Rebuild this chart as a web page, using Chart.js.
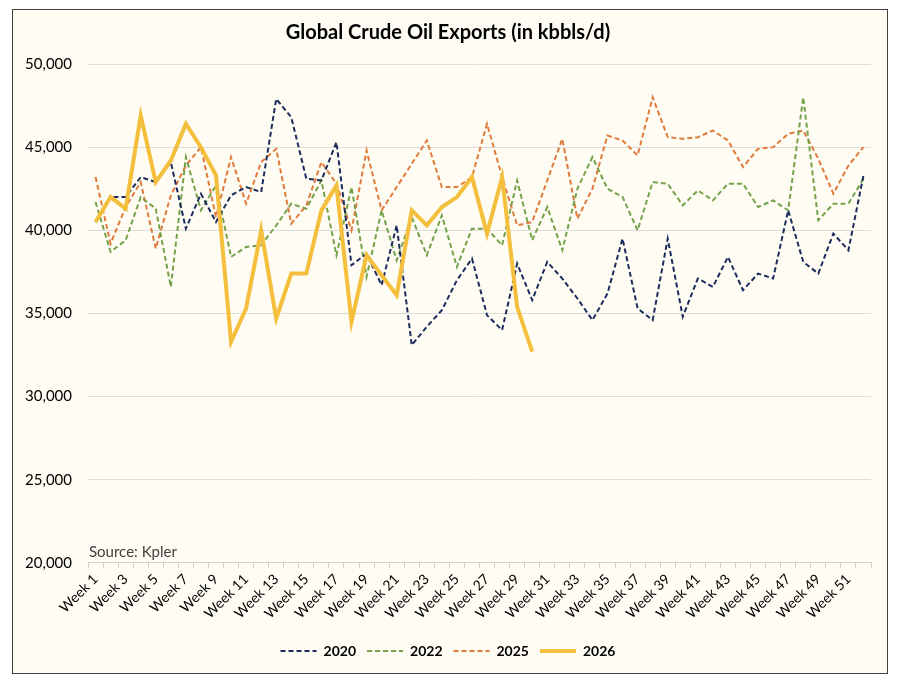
<!DOCTYPE html>
<html>
<head>
<meta charset="utf-8">
<script src="https://cdn.jsdelivr.net/npm/chart.js@4.4.1/dist/chart.umd.min.js"></script>
<style>
  html, body { margin: 0; padding: 0; background: #ffffff; }
  #frame {
    position: absolute; left: 12px; top: 9px; width: 876px; height: 665px;
    box-sizing: border-box; border: 1.5px solid #404040; background: #fefcf3;
  }
  #chart { display: block; }
</style>
</head>
<body>
<div id="frame"><canvas id="chart"></canvas></div>
<script>
// weekly exports, kbbls/d
const weeks = Array.from({ length: 52 }, (_, i) => "Week " + (i + 1));

const exports2020 = [
  40500, 42000, 42000, 43200, 42900, 44100, 40100, 42200, 40500, 42100,
  42600, 42300, 47900, 46800, 43100, 43000, 45300, 37900, 38600, 36700,
  40300, 33100, 34200, 35200, 37000, 38300, 34900, 34000, 38000, 35800,
  38100, 37100, 35900, 34600, 36200, 39500, 35300, 34600, 39500, 34800,
  37100, 36600, 38400, 36400, 37400, 37100, 41200, 38100, 37400, 39800,
  38800, 43300,
];

const exports2022 = [
  41700, 38700, 39400, 42000, 41300, 36600, 44400, 41200, 42700, 38400,
  39000, 39100, 40300, 41600, 41300, 43000, 38500, 42600, 37200, 41200,
  38200, 40800, 38500, 40900, 37800, 40100, 40100, 39100, 43000, 39400,
  41400, 38800, 42500, 44400, 42500, 42000, 40000, 42900, 42800, 41500,
  42400, 41800, 42800, 42800, 41400, 41800, 41200, 48000, 40600, 41600,
  41600, 43100,
];

const exports2025 = [
  43200, 39200, 41400, 42900, 38900, 42100, 43900, 45000, 40800, 44400,
  41600, 44100, 44900, 40400, 41500, 44100, 42800, 40000, 44800, 41200,
  42600, 44000, 45400, 42600, 42600, 43200, 46400, 43200, 40300, 40500,
  43000, 45500, 40700, 42500, 45700, 45400, 44500, 48000, 45600, 45500,
  45600, 46000, 45400, 43800, 44900, 45000, 45800, 46000, 44300, 42200,
  43900, 45000,
];

// 2026 only runs to week 30
const exports2026 = [
  40500, 42000, 41300, 46900, 42900, 44200, 46400, 45000, 43300, 33300,
  35300, 40000, 34700, 37400, 37400, 41200, 42700, 34500, 38500, 37300,
  36100, 41200, 40300, 41400, 42000, 43200, 39800, 43200, 35400, 32700,
];

const yTicks = { min: 20000, max: 50000, step: 5000 };
const sourceNote = "Source: Kpler";

const FONT = "Lato, 'Noto Sans', sans-serif";

// draws the source note inside the plot, just above the bottom gridline
const sourcePlugin = {
  id: "sourceNote",
  afterDraw(chart) {
    const { ctx, chartArea } = chart;
    ctx.save();
    ctx.font = "15px " + FONT;
    ctx.fillStyle = "#404040";
    ctx.textBaseline = "alphabetic";
    ctx.fillText(sourceNote, chartArea.left + 1, chartArea.bottom - 6);
    ctx.restore();
  },
};

// legend items built from point styles lose the dash, put it back
function legendLabels(chart) {
  const items = Chart.defaults.plugins.legend.labels.generateLabels(chart);
  items.forEach((item) => {
    const ds = chart.data.datasets[item.datasetIndex];
    item.lineDash = ds.borderDash || [];
    item.lineWidth = ds.borderWidth;
    item.strokeStyle = ds.borderColor;
  });
  return items;
}

const ctx = document.getElementById("chart").getContext("2d");

new Chart(ctx, {
  type: "line",
  data: {
    labels: weeks,
    datasets: [
      {
        label: "2020",
        data: exports2020,
        borderColor: "#1c2b5e",
        borderWidth: 2,
        borderDash: [5, 3],
        pointRadius: 0,
        tension: 0,
        order: 1,
      },
      {
        label: "2022",
        data: exports2022,
        borderColor: "#74a24a",
        borderWidth: 2,
        borderDash: [5, 3],
        pointRadius: 0,
        tension: 0,
        order: 2,
      },
      {
        label: "2025",
        data: exports2025,
        borderColor: "#e07b3c",
        borderWidth: 2,
        borderDash: [5, 3],
        pointRadius: 0,
        tension: 0,
        order: 3,
      },
      {
        label: "2026",
        data: exports2026,
        borderColor: "#f4bf3c",
        borderWidth: 4,
        pointRadius: 0,
        tension: 0,
        borderJoinStyle: "miter",
        order: 0,
      },
    ],
  },
  options: {
    responsive: true,
    maintainAspectRatio: false,
    animation: false,
    layout: { padding: { left: 12, right: 16, top: 0, bottom: 5 } },
    plugins: {
      title: {
        display: true,
        text: "Global Crude Oil Exports (in kbbls/d)",
        color: "#000",
        font: { family: FONT, size: 20, weight: "bold" },
        padding: { top: 11, bottom: 19 },
      },
      legend: {
        position: "bottom",
        labels: {
          usePointStyle: true,
          pointStyle: "line",
          pointStyleWidth: 36,
          boxHeight: 8,
          padding: 11,
          color: "#000",
          font: { family: FONT, size: 14, weight: "bold" },
          generateLabels: legendLabels,
          sort: (a, b) => a.datasetIndex - b.datasetIndex,
        },
      },
      tooltip: { enabled: false },
    },
    scales: {
      x: {
        offset: true,
        grid: {
          display: true,
          drawOnChartArea: false,
          offset: true,
          tickLength: 5,
          color: "#d0d0d0",
        },
        border: { color: "#d0d0d0" },
        ticks: {
          autoSkip: false,
          maxRotation: 45,
          minRotation: 45,
          color: "#000",
          font: { family: FONT, size: 14 },
          callback: (v, i) => (i % 2 === 0 ? weeks[i] : ""),
        },
        afterFit: (scale) => { scale.height += 8; },
      },
      y: {
        min: yTicks.min,
        max: yTicks.max,
        border: { display: false },
        grid: { color: "#dcdcdc", drawTicks: false },
        ticks: {
          stepSize: yTicks.step,
          padding: 16,
          color: "#000",
          font: { family: FONT, size: 15 },
        },
        afterFit: (scale) => { scale.width = 63; },
      },
    },
  },
  plugins: [sourcePlugin],
});
</script>
</body>
</html>
